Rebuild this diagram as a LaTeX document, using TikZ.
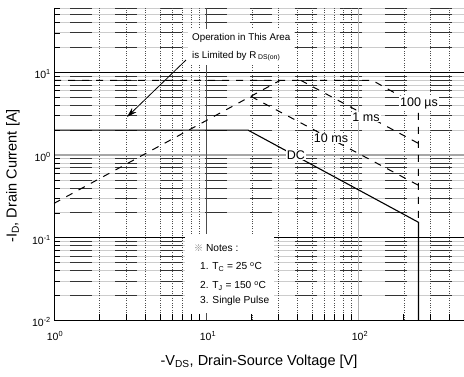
\documentclass[tikz,border=0pt]{standalone}
\usepackage{fontspec}
\setmainfont{Liberation Sans}
\newfontfamily\markfont{Noto Sans CJK SC}
\usetikzlibrary{arrows.meta}

\begin{document}
\begin{tikzpicture}[x=1pt, y=-1pt]
  \tikzset{
    datascope/.style={
      shift={(54,155)},
      x=152pt,
      y=82.7pt,
    },
    minorgrid/.style={
      gray!40,
      line width=0.8pt,
    },
    minordash/.style={
      black!80,
      line width=0.8pt,
      dash pattern=on 22pt off 23pt,
      dash phase=29pt,
    },
    vgrid/.style={
      black!70,
      line width=0.5pt,
      dash pattern=on 1pt off 1.4pt,
    },
    majorgrid/.style={
      black,
      line width=0.8pt,
    },
    limitline/.style={
      black,
      line width=1pt,
      dash pattern=on 7pt off 7pt,
    },
    dcline/.style={
      black,
      line width=1.1pt,
    },
    curvelabel/.style={
      fill=white,
      inner sep=1pt,
      font=\fontsize{12.5}{14}\selectfont,
    },
    ticklabel/.style={
      inner sep=0pt,
      font=\fontsize{10.5}{12}\selectfont,
    },
    axislabel/.style={
      font=\fontsize{14.5}{17}\selectfont,
    },
    notetext/.style={
      anchor=west,
      inner sep=0pt,
      font=\fontsize{10.2}{12}\selectfont,
    }
  }
  \useasboundingbox (0,0) rectangle (464,376);

  % Grid and limit curves
  \begin{scope}[datascope]
    % Minor grid
    \foreach \d/\kmax in {-2/9,-1/9,0/9,1/6}
      \foreach \k in {2,...,\kmax} {
        \draw[minorgrid] (0,{\d+log10(\k)}) -- (2.699,{\d+log10(\k)});
        \draw[minordash] (0,{\d+log10(\k)}) -- (2.699,{\d+log10(\k)});
      }
    \foreach \d/\kmax in {0/9,1/9,2/5}
      \foreach \k in {2,...,\kmax}
        \draw[vgrid] ({\d+log10(\k)},-2) -- ({\d+log10(\k)},{log10(60)});

    % Decades
    \draw[majorgrid] (0,1) -- (2.699,1);
    \draw[majorgrid] (0,-1) -- (2.699,-1);
    \draw[gray!70, line width=1.2pt] (0,0) -- (2.699,0);
    \draw[black!70, line width=1pt] (1,-2) -- (1,{log10(60)});
    \draw[gray!60, line width=1pt] (2,-2) -- (2,{log10(60)});

    % R_DS(on) limit
    \draw[limitline] (0,{log10(0.26)}) -- ({log10(30.8)},{log10(8)});
    % 100 us
    \draw[limitline] (0,{log10(8)}) -- ({log10(124)},{log10(8)})
      -- ({log10(250)},{log10(3.9)}) -- ({log10(250)},{log10(0.152)});
    % 1 ms
    \draw[limitline] ({log10(42)},{log10(8)}) -- ({log10(250)},{log10(1.38)});
    % 10 ms
    \draw[limitline] ({log10(19.8)},{log10(5.1)}) -- ({log10(250)},{log10(0.43)});
    % DC
    \draw[dcline] (0,{log10(2)}) -- ({log10(18.9)},{log10(2)})
      -- ({log10(250)},{log10(0.152)}) -- ({log10(250)},-2);
  \end{scope}

  % Curve labels
  \node[curvelabel] (dclabel) at (296,155) {DC};
  \node[curvelabel] (tenms) at (331,138) {10 ms};
  \node[curvelabel] (onems) at (366,117) {1 ms};
  \node[curvelabel] (hundredus) at (419,103) {100 µs};

  % Notes
  \node[fill=white, inner sep=0pt, minimum width=89pt, minimum height=79pt,
    anchor=north west] (notebox) at (185,234) {};
  \node[notetext] (note0) at (194,248) {{\markfont\color{gray}\fontsize{9}{10}\selectfont ※} Notes :};
  \node[notetext] (note1) at (200,267) {1. T\textsubscript{C} = 25 \textsuperscript{o}C};
  \node[notetext] (note2) at (200,286) {2. T\textsubscript{J} = 150 \textsuperscript{o}C};
  \node[notetext] (note3) at (200,301) {3. Single Pulse};

  % R_DS(on) note
  \node[fill=white, align=left, inner sep=4pt, anchor=north west,
    font=\fontsize{9.8}{18}\selectfont] (opnote) at (188,29)
    {Operation in This Area\\is Limited by R\,\textsubscript{DS(on)}};
  \coordinate (arrowtail) at (186,60);
  \coordinate (arrowtip) at (127,117);
  \draw[-{Stealth[length=10pt, width=6pt]}, line width=0.8pt] (arrowtail) -- (arrowtip);

  % Axes
  \begin{scope}[datascope]
    \draw[black, line width=1pt] (0,{log10(60)}) -- (0,-2) -- (2.699,-2);
    \foreach \d/\kmax in {0/9,1/9,2/5}
      \foreach \k in {2,...,\kmax}
        \draw[line width=0.6pt] ({\d+log10(\k)},-2) -- ++(0pt,6pt);
    \foreach \d/\kmax in {-2/9,-1/9,0/9,1/6}
      \foreach \k in {2,...,\kmax}
        \draw[line width=0.6pt] (0,{\d+log10(\k)}) -- ++(6pt,0pt);
  \end{scope}

  % Tick labels
  \node[ticklabel, anchor=east] (yten) at (51,74) {10\textsuperscript{1}};
  \node[ticklabel, anchor=east] (yone) at (51,157) {10\textsuperscript{0}};
  \node[ticklabel, anchor=east] (ytenth) at (51,240) {10\textsuperscript{-1}};
  \node[ticklabel, anchor=east] (yhundredth) at (51,322) {10\textsuperscript{-2}};
  \node[ticklabel] (xone) at (55,336) {10\textsuperscript{0}};
  \node[ticklabel] (xten) at (208,336) {10\textsuperscript{1}};
  \node[ticklabel] (xhundred) at (360,336) {10\textsuperscript{2}};

  % Axis titles
  \node[axislabel] (xtitle) at (259,362) {-V\textsubscript{DS}, Drain-Source Voltage [V]};
  \node[axislabel, rotate=90] (ytitle) at (13,176) {-I\textsubscript{D}, Drain Current [A]};
\end{tikzpicture}
\end{document}
